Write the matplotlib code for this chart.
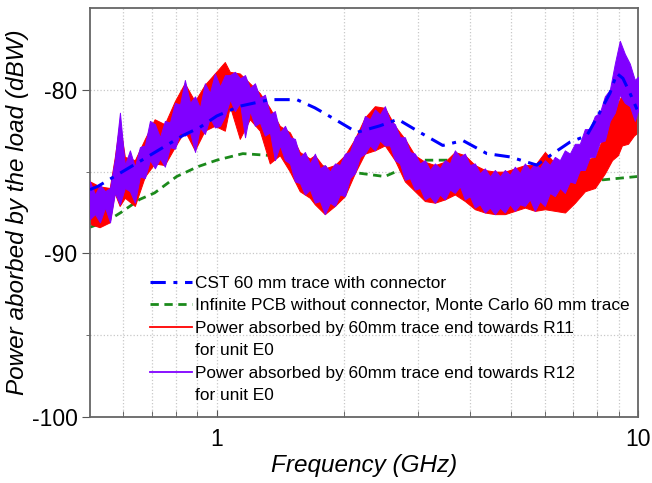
import numpy as np
import matplotlib
matplotlib.use("Agg")
import matplotlib.pyplot as plt
from matplotlib.ticker import FixedLocator, NullFormatter

plt.rcParams["font.family"] = ["Liberation Sans", "DejaVu Sans"]
plt.rcParams["axes.unicode_minus"] = False

# ===== data =====
# CST 60 mm trace with connector
cst_f = [0.50, 0.522, 0.674, 0.830, 0.911, 1.0, 1.134, 1.336, 1.549, 1.709, 1.906,
         2.15, 2.439, 2.69, 3.035, 3.44, 3.84, 4.38, 4.97, 5.75, 6.28, 6.89, 7.56,
         7.99, 8.58, 8.91, 9.21, 9.57, 9.95]
cst_v = [-86.1, -85.9, -84.2, -82.8, -82.3, -81.6, -81.0, -80.6, -80.6, -81.1, -81.8,
         -82.6, -82.2, -81.8, -82.6, -83.4, -83.1, -83.9, -84.1, -84.6, -83.9, -83.2, -82.8,
         -81.7, -80.2, -79.0, -79.3, -80.2, -81.2]

# Infinite PCB, Monte Carlo 60 mm trace
mc_f = [0.50, 0.551, 0.592, 0.656, 0.712, 0.803, 0.901, 1.0, 1.153, 1.314, 1.49, 1.66,
        1.855, 2.185, 2.505, 2.72, 3.03, 3.52, 3.99, 4.47, 5.16, 6.53, 8.27, 9.95]
mc_v = [-88.4, -88.0, -87.5, -86.7, -86.3, -85.3, -84.7, -84.3, -83.9, -84.0, -83.85, -84.5,
        -84.8, -85.1, -85.3, -84.9, -84.3, -84.3, -84.9, -85.4, -85.3, -85.45, -85.5, -85.3]

# trace towards R12 (purple): upper / lower extent of the noisy trace
r12_f = [0.500, 0.514, 0.528, 0.543, 0.558, 0.573, 0.589, 0.605, 0.622, 0.639,
         0.657, 0.675, 0.694, 0.713, 0.733, 0.753, 0.774, 0.796, 0.818, 0.840,
         0.864, 0.888, 0.912, 0.937, 0.963, 0.990, 1.018, 1.046, 1.075, 1.104,
         1.135, 1.167, 1.199, 1.232, 1.266, 1.301, 1.337, 1.374, 1.412, 1.452,
         1.492, 1.533, 1.576, 1.619, 1.664, 1.710, 1.757, 1.806, 1.856, 1.908,
         1.960, 2.015, 2.071, 2.128, 2.187, 2.247, 2.310, 2.374, 2.439, 2.507,
         2.576, 2.648, 2.721, 2.797, 2.874, 2.954, 3.035, 3.120, 3.206, 3.295,
         3.386, 3.480, 3.576, 3.675, 3.777, 3.882, 3.989, 4.100, 4.213, 4.330,
         4.450, 4.573, 4.700, 4.830, 4.964, 5.101, 5.243, 5.388, 5.537, 5.691,
         5.848, 6.010, 6.177, 6.348, 6.524, 6.704, 6.890, 7.081, 7.277, 7.479,
         7.686, 7.899, 8.118, 8.342, 8.574, 8.811, 9.055, 9.306, 9.564, 9.829, 10.0]
r12_hi = [-85.6, -86.4, -85.8, -86.2, -86.0, -84.2, -81.4, -84.6, -83.7, -84.7,
          -83.5, -83.4, -81.9, -82.1, -82.9, -81.9, -82.0, -80.8, -80.9, -79.4,
          -80.8, -80.4, -81.1, -79.6, -80.2, -79.0, -79.8, -79.1, -79.1, -78.9,
          -79.3, -79.1, -79.9, -79.6, -80.5, -80.3, -81.5, -81.3, -82.6, -82.2,
          -82.9, -83.0, -84.1, -83.8, -84.5, -83.9, -84.8, -84.6, -85.0, -84.5,
          -84.6, -83.9, -83.8, -82.9, -82.6, -81.6, -81.8, -81.2, -81.5, -81.0,
          -81.9, -82.1, -82.9, -82.9, -83.8, -83.9, -84.5, -84.3, -84.9, -84.5,
          -84.8, -84.3, -84.5, -83.7, -84.1, -83.9, -84.6, -84.5, -85.1, -84.8,
          -85.3, -84.9, -85.3, -84.9, -85.2, -84.7, -85.1, -84.5, -84.9, -84.5,
          -84.8, -84.3, -84.6, -84.1, -84.3, -83.7, -83.9, -83.3, -83.3, -82.4,
          -82.4, -81.6, -81.4, -80.4, -80.0, -78.4, -77.0, -77.8, -78.4, -79.4, -79.2]
r12_lo = [-87.9, -87.6, -88.1, -87.2, -88.1, -86.3, -87.0, -86.0, -86.2, -86.9,
          -85.3, -85.4, -84.3, -84.8, -84.2, -84.7, -83.5, -83.6, -82.6, -82.8,
          -82.6, -83.8, -82.3, -82.7, -81.7, -82.3, -82.2, -81.6, -80.6, -81.3,
          -80.8, -82.9, -81.3, -82.2, -82.0, -82.8, -82.6, -84.3, -83.4, -84.3,
          -84.5, -85.6, -85.7, -86.4, -86.1, -86.9, -86.8, -87.6, -86.9, -87.1,
          -86.4, -86.5, -85.4, -85.1, -84.1, -83.9, -83.4, -83.7, -83.1, -83.4,
          -83.4, -84.3, -84.5, -85.5, -85.4, -86.1, -86.0, -86.7, -86.5, -86.9,
          -86.4, -86.7, -86.1, -86.3, -85.9, -86.7, -86.5, -87.2, -87.0, -87.5,
          -87.2, -87.6, -87.2, -87.5, -87.0, -87.4, -87.0, -87.1, -86.7, -87.4,
          -86.8, -87.1, -86.3, -86.5, -86.0, -86.3, -85.6, -85.7, -84.9, -84.9,
          -84.1, -84.1, -83.2, -83.1, -81.9, -81.4, -80.3, -80.8, -81.0, -81.9, -81.3]

# trace towards R11 (red): mostly hidden under the purple one
r11_f = [0.50, 0.527, 0.557, 0.572, 0.588, 0.605, 0.639, 0.675, 0.712, 0.752, 0.795,
         0.839, 0.887, 0.936, 0.989, 1.045, 1.074, 1.134, 1.198, 1.265, 1.336, 1.411,
         1.491, 1.574, 1.663, 1.709, 1.805, 1.907, 2.014, 2.127, 2.246, 2.373, 2.506,
         2.647, 2.796, 2.953, 3.119, 3.295, 3.479, 3.676, 3.882, 4.101, 4.331, 4.575,
         4.832, 5.104, 5.390, 5.693, 6.013, 6.353, 6.709, 7.087, 7.484, 7.906, 8.35,
         8.68, 8.96, 9.16, 9.47, 9.78, 10.0]
r11_hi = [-85.6, -85.9, -86.0, -84.2, -82.0, -84.1, -84.3, -83.0, -81.8, -82.1, -80.7,
          -79.6, -80.7, -79.7, -79.0, -78.3, -78.9, -79.0, -79.6, -80.2, -81.1, -82.2,
          -82.6, -83.8, -84.2, -84.0, -84.8, -84.6, -84.0, -83.0, -81.7, -81.0, -81.1,
          -82.2, -83.0, -84.0, -84.4, -84.6, -84.4, -83.8, -84.0, -84.6, -84.9, -85.0,
          -85.0, -84.8, -84.6, -84.6, -83.8, -84.5, -84.6, -84.4, -84.3, -84.1, -82.6,
          -81.6, -80.8, -80.3, -80.6, -81.6, -81.3]
r11_lo = [-88.2, -88.4, -88.1, -86.3, -87.1, -86.6, -87.1, -85.3, -84.5, -84.6, -83.5,
          -82.5, -83.7, -82.5, -82.2, -82.5, -81.0, -83.0, -81.8, -82.5, -84.5, -84.0,
          -85.0, -86.2, -86.6, -87.0, -87.6, -87.1, -86.5, -85.1, -83.9, -83.7, -83.4,
          -84.3, -85.6, -86.2, -86.8, -86.9, -86.7, -86.4, -86.8, -87.3, -87.5, -87.6,
          -87.6, -87.4, -87.2, -87.4, -87.3, -87.4, -87.5, -86.9, -86.2, -86.0, -85.1,
          -84.3, -84.0, -83.4, -83.3, -82.8, -82.6]

x_minor = [0.6, 0.7, 0.8, 0.9, 2, 3, 4, 5, 6, 7, 8, 9]

# ===== 绘图 =====
fig = plt.figure(figsize=(6.52, 4.83), dpi=100)
ax = fig.add_axes([0.138, 0.1366, 0.8405, 0.8468])

blue = "#0000ff"
green = "#1b8a1b"
red = "#ff0000"
purple = "#8000ff"

ax.fill_between(r11_f, r11_lo, r11_hi, color=red, lw=0.7, zorder=2)
ax.fill_between(r12_f, r12_lo, r12_hi, color=purple, lw=0.7, zorder=3)

ax.plot(cst_f, cst_v, color=blue, lw=2.2, ls=(0, (5, 2.5, 1.3, 2.5)), zorder=4,
        label="CST 60 mm trace with connector")
ax.plot(mc_f, mc_v, color=green, lw=2.0, ls=(0, (3, 2)), zorder=1,
        label="Infinite PCB without connector, Monte Carlo 60 mm trace")
# legend rows (second text line of the long labels gets an empty handle)
ax.plot([], [], color=red, lw=1.3, label="Power absorbed by 60mm trace end towards R11")
ax.plot([], [], color="none", label="for unit E0")
ax.plot([], [], color=purple, lw=1.3, label="Power absorbed by 60mm trace end towards R12")
ax.plot([], [], color="none", label="for unit E0 ")

ax.set_xscale("log")
ax.set_xlim(0.5, 10)
ax.set_ylim(-100, -75)
ax.xaxis.set_major_locator(FixedLocator([1, 10]))
ax.xaxis.set_minor_locator(FixedLocator(x_minor))
ax.xaxis.set_minor_formatter(NullFormatter())
ax.set_xticklabels(["1", "10"])
ax.set_yticks([-80, -90, -100])
ax.set_yticks([-85, -95], minor=True)

ax.tick_params(axis="x", which="both", direction="in", labelsize=16.5, color="#555555", pad=8)
ax.tick_params(axis="x", which="major", length=5)
ax.tick_params(axis="x", which="minor", length=4)
ax.tick_params(axis="y", which="major", direction="out", length=6, labelsize=16.5,
               color="#555555", pad=3)
ax.tick_params(axis="y", which="minor", direction="out", length=3, color="#555555")

ax.grid(True, which="both", color="#c8c8c8", linestyle=":", linewidth=0.9)
ax.set_axisbelow(True)
for s in ax.spines.values():
    s.set_color("#666666")
    s.set_linewidth(1.3)

ax.set_xlabel("Frequency (GHz)", fontsize=17.5, style="italic", labelpad=2)
ax.set_ylabel("Power aborbed by the load (dBW)", fontsize=17.5, style="italic", labelpad=2)

ax.legend(loc="upper left", bbox_to_anchor=(0.1095, 0.345), frameon=False,
          fontsize=12.4, handlelength=2.44, handletextpad=0.17, labelspacing=0.43,
          borderpad=0, borderaxespad=0)

fig.savefig("out.png", dpi=100)
plt.close(fig)
